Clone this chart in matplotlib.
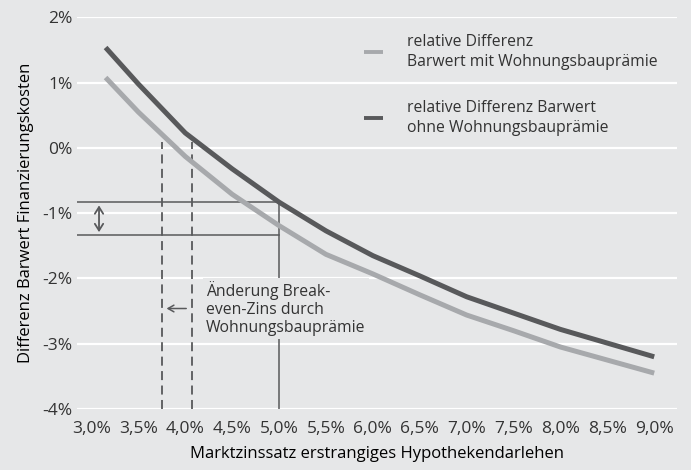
import numpy as np
import matplotlib
matplotlib.use('Agg')
import matplotlib.pyplot as plt

# Marktzins in %
zins = [3.15, 3.5, 4.0, 4.5, 5.0, 5.5, 6.0, 6.5, 7.0, 7.5, 8.0, 8.5, 9.0]
# relative Differenz Barwert mit Wohnungsbauprämie (%)
mit_wbp = [1.08, 0.55, -0.13, -0.71, -1.19, -1.63, -1.93, -2.25, -2.56, -2.80, -3.05, -3.25, -3.45]
# relative Differenz Barwert ohne Wohnungsbauprämie (%)
ohne_wbp = [1.54, 0.98, 0.23, -0.32, -0.83, -1.27, -1.65, -1.96, -2.28, -2.53, -2.78, -2.99, -3.20]

x_ticks = [3.0, 3.5, 4.0, 4.5, 5.0, 5.5, 6.0, 6.5, 7.0, 7.5, 8.0, 8.5, 9.0]
y_ticks = [2, 1, 0, -1, -2, -3, -4]

# Hilfslinien
break_even_mit = 3.75
break_even_ohne = 4.07
ref_zins = 5.0
ref_oben = -0.83
ref_unten = -1.34

bg = '#e6e7e8'
dunkel = '#58595b'
hell = '#a7a9ac'
txt = '#333333'

plt.rcParams['font.family'] = ['Open Sans', 'DejaVu Sans']
plt.rcParams['font.size'] = 12
plt.rcParams['text.color'] = txt

fig = plt.figure(figsize=(6.91, 4.70), dpi=100, facecolor=bg)
ax = fig.add_axes([0.1114, 0.1298, 0.8686, 0.833])
ax.set_facecolor(bg)

ax.set_xlim(2.845, 9.245)
ax.set_ylim(-4, 2)
for y in y_ticks:
    ax.axhline(y, color='white', lw=1.6, zorder=1)

ax.plot(zins, mit_wbp, color=hell, lw=3.6, solid_capstyle='butt', zorder=4,
        label='relative Differenz\nBarwert mit Wohnungsbauprämie')
ax.plot(zins, ohne_wbp, color=dunkel, lw=3.6, solid_capstyle='butt', zorder=4,
        label='relative Differenz Barwert\nohne Wohnungsbauprämie')

# gestrichelte Break-even-Linien
for xb in [break_even_mit, break_even_ohne]:
    ax.plot([xb, xb], [-4, 0.09], color=dunkel, lw=1.3, dashes=(5, 3), zorder=2)

# Referenzlinien bei 5,0 %
ax.plot([2.845, ref_zins], [ref_oben, ref_oben], color=dunkel, lw=1.1, zorder=2)
ax.plot([2.845, ref_zins], [ref_unten, ref_unten], color=dunkel, lw=1.1, zorder=2)
ax.plot([ref_zins, ref_zins], [-4, ref_oben], color=dunkel, lw=1.1, zorder=2)

ax.annotate('', xy=(3.08, -0.88), xytext=(3.08, -1.29),
            arrowprops=dict(arrowstyle='<->,head_length=0.4,head_width=0.25', color=dunkel, lw=1.3,
                            shrinkA=0, shrinkB=0), zorder=3)
ax.annotate('', xy=(3.80, -2.46), xytext=(4.01, -2.46),
            arrowprops=dict(arrowstyle='->,head_length=0.35,head_width=0.2', color=dunkel, lw=1.1,
                            shrinkA=0, shrinkB=0), zorder=3)

ax.text(4.22, -2.04, 'Änderung Break-\neven-Zins durch\nWohnungsbauprämie', ha='left', va='top',
        fontsize=11.3, linespacing=1.15, zorder=5,
        bbox=dict(boxstyle='square,pad=0.2', facecolor=bg, edgecolor='none'))

ax.set_xticks(x_ticks)
ax.set_xticklabels([f'{v:.1f}%'.replace('.', ',') for v in x_ticks])
ax.set_yticks(y_ticks)
ax.set_yticklabels([f'{v}%' for v in y_ticks])
ax.tick_params(length=0, pad=3, colors=txt, labelsize=12.5)
ax.tick_params(axis='x', pad=9)
for s in ax.spines.values():
    s.set_visible(False)

ax.set_xlabel('Marktzinssatz erstrangiges Hypothekendarlehen', fontsize=12, labelpad=6)
ax.set_ylabel('Differenz Barwert Finanzierungskosten', fontsize=12, labelpad=6)

leg = ax.legend(loc='upper left', bbox_to_anchor=(0.467, 0.975), frameon=False, handlelength=1.27,
                handletextpad=1.5, labelspacing=1.9, fontsize=11.3, borderaxespad=0)
for t in leg.get_texts():
    t.set_linespacing(1.35)
for h in leg.get_lines():
    h.set_linewidth(2.8)

fig.savefig('out.png', dpi=100, facecolor=bg)
